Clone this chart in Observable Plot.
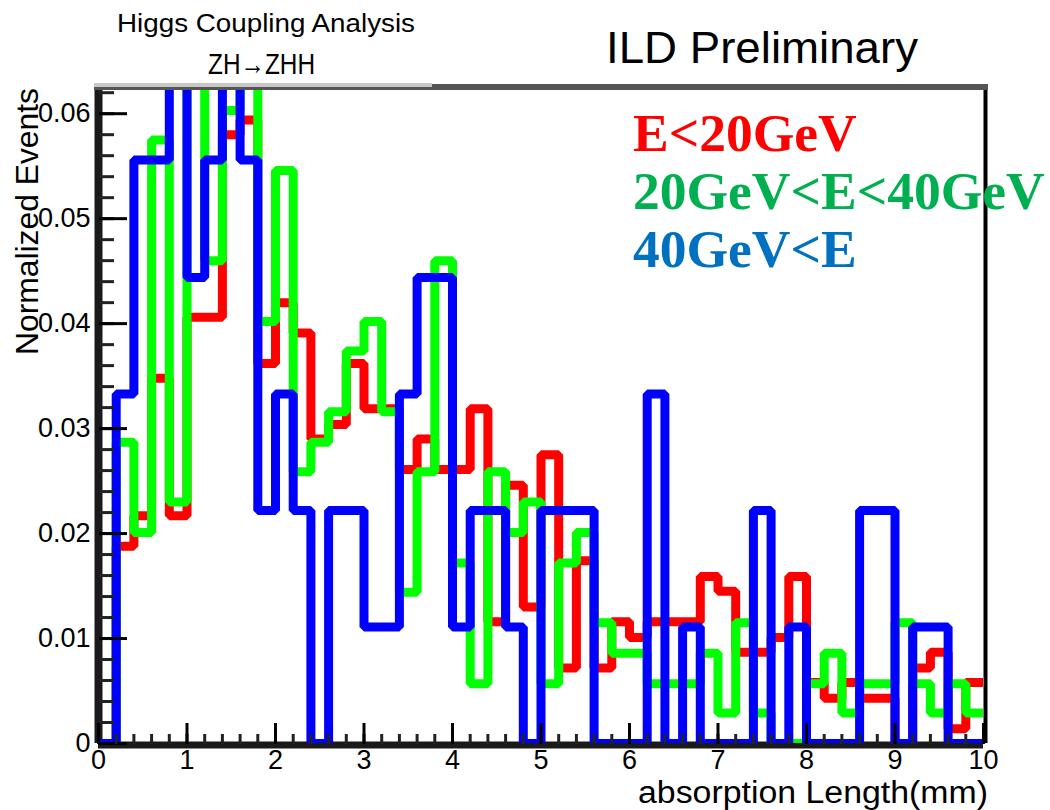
<!DOCTYPE html>
<html>
<head>
<meta charset="utf-8">
<script src="https://cdn.jsdelivr.net/npm/d3@7"></script>
<script src="https://cdn.jsdelivr.net/npm/@observablehq/plot@0.6"></script>
<style>
html, body { margin: 0; padding: 0; background: #fff; }
#wrap { position: relative; width: 1050px; height: 810px; overflow: hidden; background: #fff; }
#wrap svg.overlay { position: absolute; left: 0; top: 0; pointer-events: none; }
</style>
</head>
<body>
<div id="wrap"></div>
<script>
// ---- data (50 bins of width 0.2 from 0 to 10) ----
const binWidth = 0.2;
const redValues = [0, 0.0188, 0.0217, 0.0348, 0.0217, 0.0406, 0.0406, 0.0580, 0.0594, 0.0362,
  0.0420, 0.0391, 0.0290, 0.0304, 0.0362, 0.0319, 0.0319, 0.0261, 0.0290, 0.0261,
  0.0261, 0.0319, 0.0116, 0.0246, 0.0130, 0.0275, 0.0072, 0.0174, 0.0072, 0.0116,
  0.0101, 0.0116, 0.0116, 0.0116, 0.0159, 0.0145, 0.0087, 0.0087, 0.0101, 0.0159,
  0.0058, 0.0043, 0.0058, 0.0043, 0.0043, 0, 0.0072, 0.0087, 0.0014, 0.0058];
const greenValues = [0, 0.0287, 0.0201, 0.0575, 0.0230, 0.0650, 0.0460, 0.0603, 0.0650, 0.0402,
  0.0546, 0.0259, 0.0287, 0.0316, 0.0374, 0.0402, 0.0316, 0.0144, 0.0259, 0.0460,
  0.0172, 0.0057, 0.0259, 0.0201, 0.0230, 0.0057, 0.0172, 0.0201, 0.0115, 0.0086,
  0.0086, 0.0057, 0.0057, 0.0057, 0.0086, 0.0029, 0.0115, 0.0029, 0, 0,
  0.0057, 0.0086, 0.0029, 0.0057, 0.0057, 0.0115, 0.0057, 0.0029, 0.0057, 0.0029];
const blueValues = [0, 0.0333, 0.0556, 0.0556, 0.0778, 0.0444, 0.0556, 0.0778, 0.0556, 0.0222,
  0.0333, 0.0222, 0, 0.0222, 0.0222, 0.0111, 0.0111, 0.0333, 0.0444, 0.0444,
  0.0111, 0.0222, 0.0222, 0.0111, 0, 0.0222, 0.0222, 0.0222, 0, 0,
  0, 0.0333, 0, 0.0111, 0, 0, 0, 0.0222, 0, 0.0111,
  0, 0, 0, 0.0222, 0.0222, 0, 0.0111, 0.0111, 0, 0];

const seriesNames = ["E<20GeV", "20GeV<E<40GeV", "40GeV<E"];
const lineColors = ["#ff0000", "#00ff00", "#0000ff"];
const legendColors = ["#ff0000", "#00b050", "#0070c0"];
const seriesValues = [redValues, greenValues, blueValues];

const xTicks = [0, 1, 2, 3, 4, 5, 6, 7, 8, 9, 10];
const xMinorTicks = d3.range(0, 10.001, 0.2);
const yTicks = [0, 0.01, 0.02, 0.03, 0.04, 0.05, 0.06];
const yTickLabels = ["0", "0.01", "0.02", "0.03", "0.04", "0.05", "0.06"];
const yMinorTicks = d3.range(0, 0.0621, 0.002);

const titleText = "Higgs Coupling Analysis";
const subtitleText = "ZH\u2192ZHH";
const bannerText = "ILD Preliminary";
const xLabel = "absorption Length(mm)";
const yLabel = "Normalized Events";

// histogram outline rows: left edge of each bin, then the right end
function outline(values, name) {
  const rows = values.map((v, i) => ({series: name, x: i * binWidth, y: v}));
  rows.push({series: name, x: values.length * binWidth, y: values[values.length - 1]});
  return rows;
}

const histMarks = seriesValues.map((vals, k) =>
  Plot.line(outline(vals, seriesNames[k]), {
    x: "x", y: "y", stroke: lineColors[k], strokeWidth: 9,
    curve: "step-after", clip: true, strokeLinejoin: "miter", strokeLinecap: "butt"
  })
);

const plot = Plot.plot({
  width: 1050,
  height: 810,
  marginLeft: 98,
  marginRight: 67,
  marginTop: 88,
  marginBottom: 67,
  x: {domain: [0, 10]},
  y: {domain: [0, 0.0624]},
  style: {fontFamily: "'Liberation Sans', Arial, sans-serif", background: "white", color: "#111"},
  marks: [
    Plot.ruleY([0], {stroke: "#1a1a1a", strokeWidth: 7, dy: 1.5}),
    Plot.ruleX([0], {stroke: "#1a1a1a", strokeWidth: 8}),
    ...histMarks,
    Plot.axisY(yMinorTicks, {anchor: "right", frameAnchor: "left", tickSize: 15, strokeWidth: 3, stroke: "#222", tickFormat: () => "", label: null}),
    Plot.axisY(yTicks, {anchor: "right", frameAnchor: "left", tickSize: 28, strokeWidth: 3, stroke: "#000", tickFormat: () => "", label: null}),
    Plot.axisY(yTicks, {anchor: "left", tickSize: 0, tickPadding: 8, fontSize: 27, fill: "#000",
      tickFormat: (d) => yTickLabels[yTicks.indexOf(d)], label: null}),
    Plot.axisX(xMinorTicks, {anchor: "top", frameAnchor: "bottom", tickSize: 10, strokeWidth: 3, stroke: "#222", tickFormat: () => "", label: null}),
    Plot.axisX(xTicks, {anchor: "top", frameAnchor: "bottom", tickSize: 21, strokeWidth: 3, stroke: "#000", tickFormat: () => "", label: null}),
    Plot.axisX(xTicks, {anchor: "bottom", tickSize: 0, tickPadding: 6, fontSize: 27, fill: "#000", tickFormat: (d) => String(d), label: null}),
    Plot.ruleX([10], {stroke: "#000", strokeWidth: 4, dx: 2})
  ]
});

const wrap = document.getElementById("wrap");
wrap.appendChild(plot);

// ---- overlay: titles, frame top bar, axis titles, legend ----
const ov = d3.select(wrap).append("svg")
  .attr("class", "overlay")
  .attr("width", 1050).attr("height", 810)
  .attr("viewBox", "0 0 1050 810");

ov.append("rect").attr("x", 94).attr("y", 84).attr("width", 894).attr("height", 6).attr("fill", "#555");
ov.append("rect").attr("x", 94).attr("y", 83).attr("width", 338).attr("height", 4).attr("fill", "#c8c8c8");

ov.append("text").text(titleText)
  .attr("x", 117).attr("y", 32)
  .attr("textLength", 298).attr("lengthAdjust", "spacingAndGlyphs")
  .attr("font-family", "'Liberation Sans', Arial, sans-serif").attr("font-size", 25).attr("fill", "#000");
ov.append("text").text(subtitleText)
  .attr("x", 208).attr("y", 74)
  .attr("textLength", 107).attr("lengthAdjust", "spacingAndGlyphs")
  .attr("font-family", "'Liberation Sans', Arial, sans-serif").attr("font-size", 30).attr("fill", "#000");
ov.append("text").text(bannerText)
  .attr("x", 606).attr("y", 63)
  .attr("textLength", 312).attr("lengthAdjust", "spacingAndGlyphs")
  .attr("font-family", "'Liberation Sans', Arial, sans-serif").attr("font-size", 44).attr("fill", "#000");

ov.append("text").text(xLabel)
  .attr("x", 638).attr("y", 803)
  .attr("textLength", 350).attr("lengthAdjust", "spacingAndGlyphs")
  .attr("font-family", "'Liberation Sans', Arial, sans-serif").attr("font-size", 31).attr("fill", "#000");
ov.append("text").text(yLabel)
  .attr("transform", "translate(38,88) rotate(-90)")
  .attr("text-anchor", "end")
  .attr("textLength", 267).attr("lengthAdjust", "spacingAndGlyphs")
  .attr("font-family", "'Liberation Sans', Arial, sans-serif").attr("font-size", 32).attr("fill", "#000");

seriesNames.forEach((name, k) => {
  ov.append("text").text(name)
    .attr("x", 633).attr("y", 151 + k * 58)
    .attr("font-family", "'Liberation Serif', 'Times New Roman', serif")
    .attr("font-weight", "bold").attr("font-size", 53.5)
    .attr("fill", legendColors[k]);
});
</script>
</body>
</html>
